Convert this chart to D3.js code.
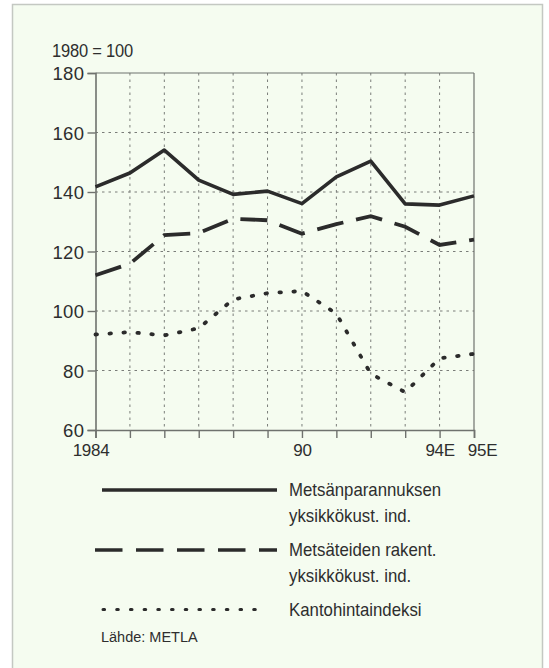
<!DOCTYPE html>
<html><head><meta charset="utf-8">
<script src="https://cdn.jsdelivr.net/npm/d3@7"></script>
<style>
html,body{margin:0;padding:0;background:#fff;}
svg{display:block;}
text{font-family:"Liberation Sans",Arial,sans-serif;fill:#2e2e2e;}
</style></head>
<body>
<script>
const years = [1984,1985,1986,1987,1988,1989,1990,1991,1992,1993,1994,1995];
const xTickLabels = ["1984","","","","","","90","","","","94E","95E"];
const yTicks = [60,80,100,120,140,160,180];
const metsanparannus = [141.7,146.4,154.1,144,139.2,140.3,136.1,145.1,150.4,136,135.6,138.7];
const metsateiden = [112,115.9,125.5,126.2,131,130.5,126,129.2,131.9,128.3,122.2,124];
const kantohinta = [92.1,92.9,91.8,94.2,103.9,106,106.7,99.1,78.9,72.7,84.1,85.6];
const seriesNames = [["Metsänparannuksen","yksikkökust. ind."],["Metsäteiden rakent.","yksikkökust. ind."],["Kantohintaindeksi"]];

const W=549,H=668;
const svg=d3.select("body").append("svg").attr("width",W).attr("height",H);
svg.append("rect").attr("x",12.5).attr("y",4.5).attr("width",530).attr("height",H).attr("fill","#f5fcf0").attr("stroke","#c4c8c2").attr("stroke-width",1.5);

const x=d3.scaleLinear().domain([1984,1995]).range([95.5,474]);
const y=d3.scaleLinear().domain([60,180]).range([430,73]);
const ink="#2b2b2b", axisC="#6f726e";

// grid
const g=svg.append("g");
g.selectAll("line.hg").data(yTicks.filter(v=>v>60&&v<180)).enter().append("line")
 .attr("x1",x(1984)).attr("x2",x(1995)).attr("y1",d=>y(d)).attr("y2",d=>y(d))
 .attr("stroke","#7a7d79").attr("stroke-width",1).attr("stroke-dasharray","2.5,4");
g.selectAll("line.vg").data(years.slice(1,-1)).enter().append("line")
 .attr("x1",d=>x(d)).attr("x2",d=>x(d)).attr("y1",y(180)).attr("y2",y(60))
 .attr("stroke","#7a7d79").attr("stroke-width",1).attr("stroke-dasharray","2.5,4");
g.append("line").attr("x1",x(1984)).attr("x2",x(1995)).attr("y1",y(180)).attr("y2",y(180)).attr("stroke",axisC).attr("stroke-width",1.2);
g.append("line").attr("x1",x(1995)).attr("x2",x(1995)).attr("y1",y(180)).attr("y2",y(60)).attr("stroke",axisC).attr("stroke-width",1.2);

// axes
const yAxis=svg.append("g").attr("transform",`translate(${x(1984)},0)`)
 .call(d3.axisLeft(y).tickValues(yTicks).tickSize(8).tickPadding(3).tickFormat(d3.format("d")));
yAxis.select(".domain").attr("stroke",axisC).attr("stroke-width",1.6);
yAxis.selectAll(".tick line").attr("stroke",axisC).attr("stroke-width",1.4);
yAxis.selectAll("text").attr("font-size",18.5).attr("fill","#2e2e2e").attr("font-family","Liberation Sans, Arial, sans-serif")
 .attr("letter-spacing","0.4").attr("dy","0.36em");

const xAxis=svg.append("g").attr("transform",`translate(0,${y(60)})`)
 .call(d3.axisBottom(x).tickValues(years).tickSize(8).tickFormat((d,i)=>xTickLabels[i]));
xAxis.select(".domain").attr("stroke",axisC).attr("stroke-width",1.6);
xAxis.selectAll(".tick line").attr("stroke",axisC).attr("stroke-width",1.4);
xAxis.selectAll("text").attr("font-size",17).attr("fill","#2e2e2e").attr("font-family","Liberation Sans, Arial, sans-serif")
 .attr("letter-spacing","-0.3").attr("y",14).attr("dy","0.71em")
 .attr("dx",(d,i)=> i===0?-5:(i===11?8:0));

const stretch=(sel,xp,yp,sy)=>sel.attr("transform",`translate(${xp},${yp}) scale(1,${sy})`);
stretch(svg.append("text").attr("font-size",16.5).attr("letter-spacing","-0.2").text("1980 = 100"),52,57,1.12);

// lines
const line=d3.line().x((d,i)=>x(years[i])).y(d=>y(d));
svg.append("path").datum(metsanparannus).attr("d",line).attr("fill","none").attr("stroke",ink).attr("stroke-width",3.6).attr("stroke-linejoin","round");
svg.append("path").datum(metsateiden).attr("d",line).attr("fill","none").attr("stroke",ink).attr("stroke-width",3.8).attr("stroke-dasharray","27,13");
svg.append("path").datum(kantohinta).attr("d",line).attr("fill","none").attr("stroke",ink).attr("stroke-width",3.8).attr("stroke-linecap","round").attr("stroke-dasharray","1.5,12.5");

// legend
const leg=svg.append("g");
leg.append("line").attr("x1",102).attr("x2",277).attr("y1",490).attr("y2",490).attr("stroke",ink).attr("stroke-width",3.4);
leg.append("line").attr("x1",95).attr("x2",277).attr("y1",550).attr("y2",550).attr("stroke",ink).attr("stroke-width",3.4).attr("stroke-dasharray","27.5,13.5");
leg.append("line").attr("x1",103).attr("x2",267).attr("y1",609.5).attr("y2",609.5).attr("stroke",ink).attr("stroke-width",3).attr("stroke-linecap","round").attr("stroke-dasharray","1.6,12.1");
const lbY=[[496,522],[556,582],[616]];
seriesNames.forEach((lines,k)=>lines.forEach((t,j)=>{
  stretch(leg.append("text").attr("font-size",16.8).text(t),289,lbY[k][j],1.12);
}));
stretch(svg.append("text").attr("font-size",14.5).text("Lähde: METLA"),101,642,1.05);
</script>
</body></html>
